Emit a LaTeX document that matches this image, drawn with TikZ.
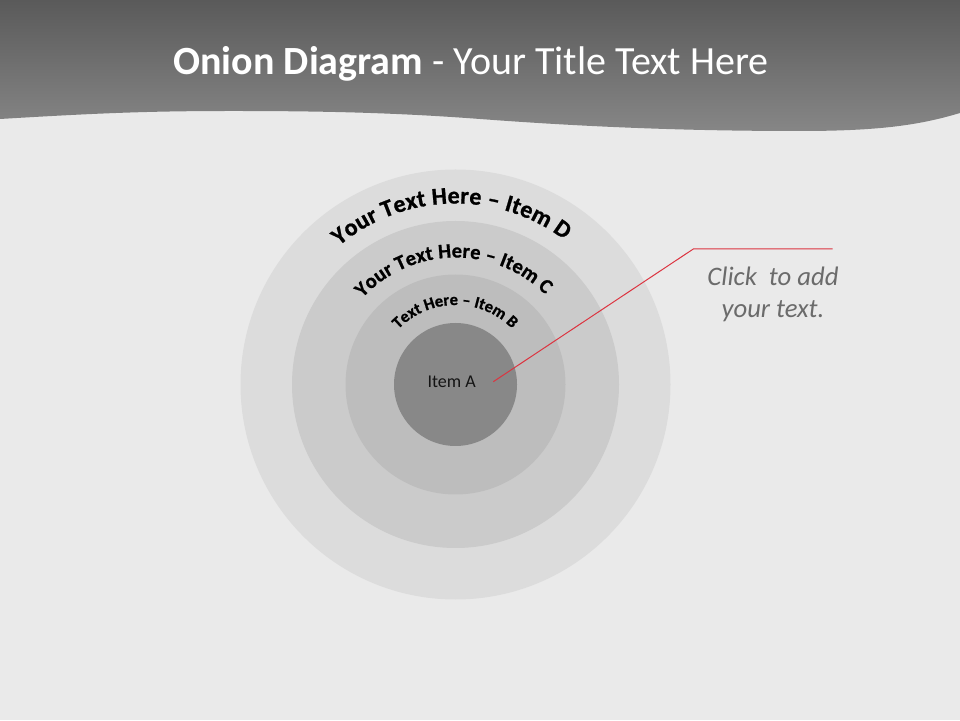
\documentclass[tikz,border=0pt]{standalone}
\usepackage{fontspec}
\setmainfont{Carlito}
\newfontfamily\arcfamily{Carlito}[UprightFont={* Bold}, UprightFeatures={FakeBold=0.9}]
\usetikzlibrary{decorations.text}
\definecolor{bgcol}{HTML}{EAEAEA}
\definecolor{hdrtop}{HTML}{5A5A5A}
\definecolor{hdrbot}{HTML}{868686}
\definecolor{ringDcol}{HTML}{DCDCDC}
\definecolor{ringCcol}{HTML}{CBCBCB}
\definecolor{ringBcol}{HTML}{BDBDBD}
\definecolor{coreAcol}{HTML}{888888}
\definecolor{leadercol}{HTML}{DC3440}
\definecolor{clickcol}{HTML}{6B6B6B}
\newcommand{\ringfontD}{\arcfamily\fontsize{24}{26}\selectfont}
\newcommand{\ringfontC}{\arcfamily\fontsize{20.5}{22}\selectfont}
\newcommand{\ringfontB}{\arcfamily\fontsize{16.5}{18}\selectfont}
\tikzset{
  ring/.style={circle, inner sep=0pt, outer sep=0pt, draw=none},
  titletext/.style={anchor=base, inner sep=0pt, text=white, font=\fontsize{40}{48}\selectfont},
  itemtext/.style={anchor=base, inner sep=0pt, text=black!92, font=\fontsize{18}{22}\selectfont},
  clicktext/.style={anchor=base, inner sep=0pt, text=clickcol, font=\itshape\fontsize{26.7}{32}\selectfont},
  leader/.style={draw=leadercol, line width=1pt},
  arctext/.style={decorate, decoration={text along path, text align=fit to path, text={#1}}}
}
\begin{document}
\begin{tikzpicture}[x=1pt,y=1pt]
\useasboundingbox (0,0) rectangle (960,720);
\fill[bgcol] (0,0) rectangle (960,720);
% header band with wavy lower edge
\shade[top color=hdrtop, bottom color=hdrbot]
  (0,720) -- (960,720) -- (960,607)
  .. controls (920,595) and (880,589) .. (800,589)
  .. controls (700,589) and (600,592) .. (480,601)
  .. controls (400,607) and (330,609) .. (233,609)
  .. controls (150,609) and (100,607) .. (0,601) -- cycle;
\node[titletext] (title) at (471,645) {\textbf{Onion Diagram} - Your Title Text Here};
% onion rings
\coordinate (ctr) at (455.5,335.5);
\node[ring, fill=ringDcol, minimum size=430pt] (ringD) at (ctr) {};
\node[ring, fill=ringCcol, minimum size=327pt] (ringC) at (ctr) {};
\node[ring, fill=ringBcol, minimum size=220pt] (ringB) at (ctr) {};
\node[ring, fill=coreAcol, minimum size=123pt] (coreA) at (ctr) {};
\node[itemtext] (itemA) at (451.7,332.7) {Item A};
% curved labels
\path[arctext={|\ringfontD|Your Text Here – Item D}]
  ([shift={(130:181)}]ctr) arc (130:53:181);
\path[arctext={|\ringfontC|Your Text Here – Item C}]
  ([shift={(137:127)}]ctr) arc (137:45:127);
\path[arctext={|\ringfontB|Text Here – Item B}]
  ([shift={(136:79.5)}]ctr) arc (136:45:79.5);
% leader line and callout text
\coordinate (leadStart) at (493.3,338.3);
\coordinate (leadBend) at (693.3,471);
\coordinate (leadEnd) at (832.7,471);
\draw[leader] (leadStart) -- (leadBend) -- (leadEnd);
\node[clicktext] (click1) at (773,434) {Click~ to add};
\node[clicktext] (click2) at (773,402.7) {your text.};
\end{tikzpicture}
\end{document}
